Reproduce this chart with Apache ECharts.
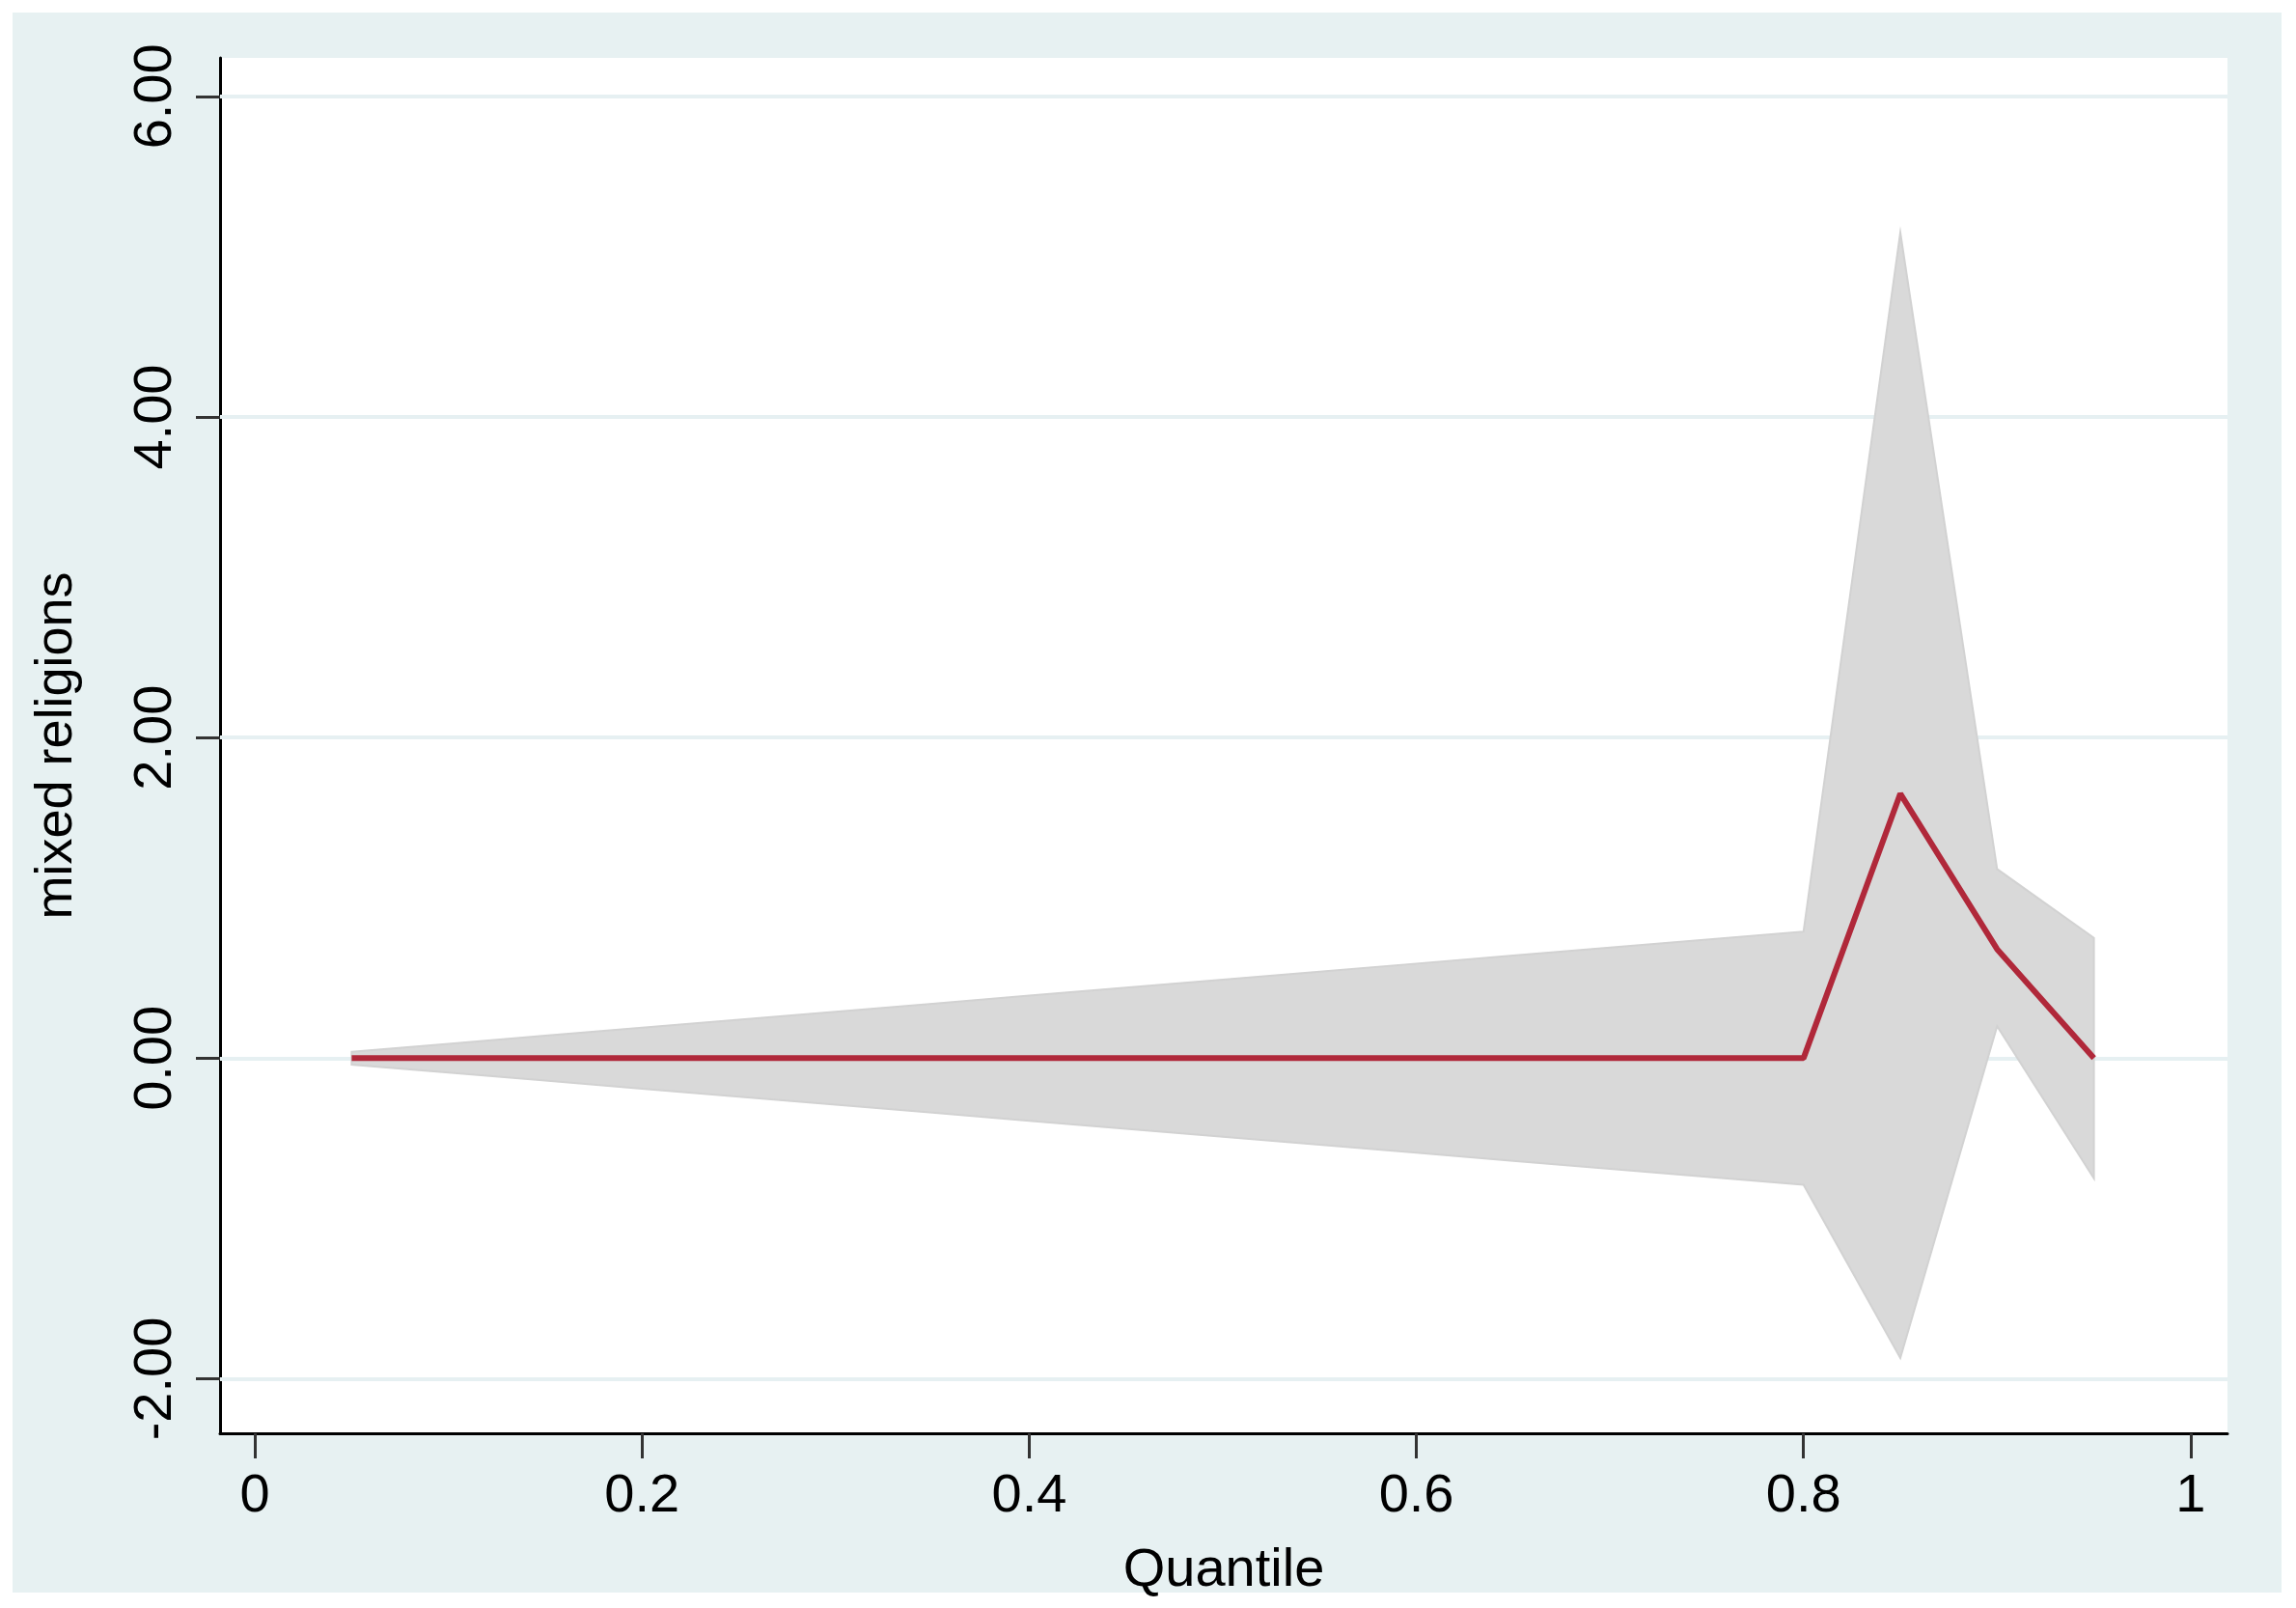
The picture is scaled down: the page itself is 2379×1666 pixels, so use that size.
<!DOCTYPE html>
<html><head><meta charset="utf-8">
<script src="https://cdn.jsdelivr.net/npm/echarts@6/dist/echarts.min.js"></script>
<style>html,body{margin:0;padding:0;background:#fff}#c{width:2379px;height:1666px}</style>
</head><body><div id="c"></div>
<script>
const quantiles = [0.05,0.10,0.15,0.20,0.25,0.30,0.35,0.40,0.45,0.50,0.55,0.60,0.65,0.70,0.75,0.80,0.85,0.90,0.95];
const coef  = [0,0,0,0,0,0,0,0,0,0,0,0,0,0,0,0,1.65,0.68,0];
const upper = [0.04,0.09,0.14,0.19,0.24,0.29,0.34,0.39,0.44,0.49,0.54,0.59,0.64,0.69,0.74,0.79,5.15,1.18,0.75];
const lower = [-0.04,-0.09,-0.14,-0.19,-0.24,-0.29,-0.34,-0.39,-0.44,-0.49,-0.54,-0.59,-0.64,-0.69,-0.74,-0.79,-1.87,0.20,-0.75];
const xTicks = [0,0.2,0.4,0.6,0.8,1];
const yTicks = [-2,0,2,4,6];

const font = 'Liberation Sans, Arial, sans-serif';
const chart = echarts.init(document.getElementById('c'));
chart.setOption({
  animation:false,
  backgroundColor:'#fff',
  graphic:[{type:'rect',z:-10,shape:{x:13,y:13,width:2351,height:1637},style:{fill:'#e7f1f2'}}],
  grid:{left:228,right:71,top:60,bottom:181,show:true,backgroundColor:'#fff',borderWidth:0},
  xAxis:{type:'value',min:-0.018,max:1.019,
    name:'Quantile',nameLocation:'middle',nameGap:115,nameTextStyle:{fontSize:56,color:'#000',fontFamily:font},
    axisLine:{onZero:false,lineStyle:{color:'#000',width:3}},
    axisTick:{show:true,length:26,lineStyle:{color:'#333',width:3},customValues:xTicks},
    axisLabel:{customValues:xTicks,fontSize:56,color:'#000',fontFamily:font,margin:38,formatter:v=>String(v)},
    splitLine:{show:false}},
  yAxis:{type:'value',min:-2.34,max:6.24,
    name:'mixed religions',nameLocation:'middle',nameGap:142,nameRotate:90,nameTextStyle:{fontSize:54,color:'#000',fontFamily:font},
    axisLine:{show:true,onZero:false,lineStyle:{color:'#000',width:3}},
    axisTick:{show:true,length:25,lineStyle:{color:'#333',width:3},customValues:yTicks},
    axisLabel:{customValues:yTicks,fontSize:56,color:'#000',fontFamily:font,rotate:90,margin:38,formatter:v=>v.toFixed(2)},
    splitLine:{show:false}},
  series:[
    {type:'custom',silent:true,z:2,data:[0],
     renderItem:(params,api)=>{
       const pts=[];
       quantiles.forEach((q,i)=>pts.push(api.coord([q,upper[i]])));
       for(let i=quantiles.length-1;i>=0;i--) pts.push(api.coord([quantiles[i],lower[i]]));
       return {type:'polygon',shape:{points:pts},style:{fill:'#d9d9d9',stroke:'#d2d2d2',lineWidth:2}};
     },
     markLine:{silent:true,symbol:'none',label:{show:false},z:1,lineStyle:{color:'#e6f0f2',width:4,type:'solid'},data:yTicks.map(v=>({yAxis:v}))}},
    {type:'line',data:quantiles.map((q,i)=>[q,coef[i]]),symbol:'none',lineStyle:{color:'#b0283a',width:6},z:5}
  ]
});
</script></body></html>
